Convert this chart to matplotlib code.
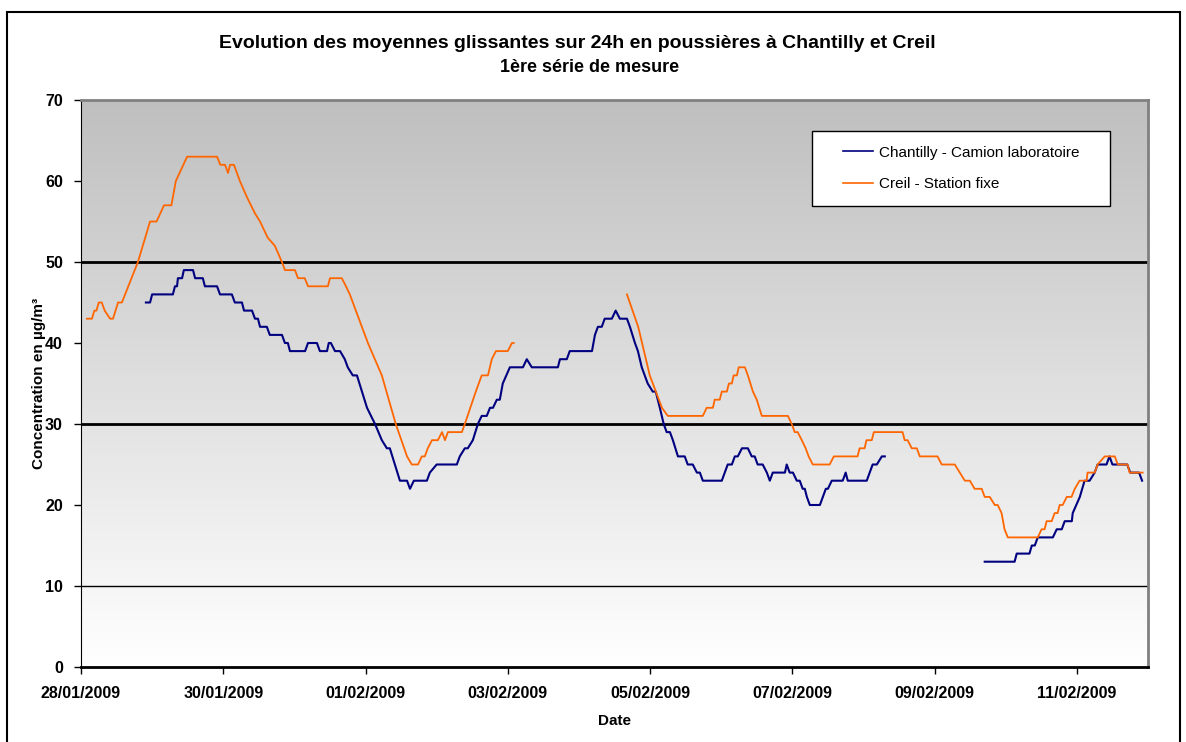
import matplotlib
matplotlib.use('Agg')
import matplotlib.pyplot as plt
import matplotlib.dates as mdates
from matplotlib.patches import Rectangle
from matplotlib.lines import Line2D
import numpy as np
import pandas as pd

plt.rcParams['font.family'] = ['Liberation Sans', 'DejaVu Sans']

# ---- data: hours after 28/01/2009 00:00, 24h rolling mean (µg/m3) ----
start = pd.Timestamp('2009-01-28 00:00')

creil_a_h = [2, 3.7, 4.5, 5.2, 6, 7, 8, 9.8, 10.8, 12.5, 13.8, 19.2, 23.3, 25.5, 28, 30.5, 32, 35.8,
             45.9, 47, 48.6, 49.6, 50.3, 51.6, 53.6, 56, 58.7, 60.4, 63, 65.4, 67.8, 68.8, 72.2,
             73.2, 75.5, 76.6, 83.3, 84, 88, 89.4, 90.7, 96.8, 101.5, 106.2, 110, 111.6, 113.7,
             115, 116, 117, 118.4, 120.4, 121.8, 122.8, 123.8, 128.5, 129.5, 133.2, 135.2, 137.3,
             138.6, 140, 144, 145.4, 146]
creil_a_v = [43, 43, 44, 44, 45, 45, 44, 43, 43, 45, 45, 50, 55, 55, 57, 57, 60, 63,
             63, 62, 62, 61, 62, 62, 60, 58, 56, 55, 53, 52, 50, 49, 49,
             48, 48, 47, 47, 48, 48, 47, 46, 40, 36, 30, 26, 25, 25,
             26, 26, 27, 28, 28, 29, 28, 29, 29, 30, 34, 36, 36,
             38, 39, 39, 40, 40]

creil_b_h = [184.2, 188, 191.9, 196, 198, 209.8, 211.1, 213.2, 213.8, 215.5, 216.2, 217.9, 218.6,
             219.6, 220.2, 221.3, 221.9, 224, 225, 226.7, 228, 229.7, 238.5, 239.8, 240.8, 241.8,
             243.2, 244.5, 245.5, 246.9, 252.6, 254, 262, 262.7, 264.4, 265, 266.8, 267.5, 277.2,
             277.9, 278.9, 280.3, 282, 283, 289, 290.4, 294.8, 296.5, 298.2, 299.9, 301.5, 303.9,
             304.9, 306.6, 308.3, 309.3, 310.6, 311.6, 312.7, 322.8, 324.1, 325.1, 325.8, 327.5,
             328.5, 329.5, 330.2, 331.2, 332.6, 334.2, 335.3, 336.9, 339.3, 339.6, 342, 343, 345.4,
             348.8, 349.8, 353.1, 353.8, 358.2]
creil_b_v = [46, 42, 36, 32, 31, 31, 32, 32, 33, 33, 34, 34, 35,
             35, 36, 36, 37, 37, 36, 34, 33, 31, 31, 30, 29, 29,
             28, 27, 26, 25, 25, 26, 26, 27, 27, 28, 28, 29, 29,
             28, 28, 27, 27, 26, 26, 25, 25, 24, 23, 23, 22, 22,
             21, 21, 20, 20, 19, 17, 16, 16, 17, 17, 18, 18,
             19, 19, 20, 20, 21, 21, 22, 23, 23, 24, 24, 25, 26,
             26, 25, 25, 24, 24]

chant_a_h = [21.9, 23.3, 24, 31, 31.7, 32.4, 32.7, 34.1, 34.7, 37.8, 38.5, 41.1, 41.8, 45.9, 46.9,
             50.9, 51.9, 54.3, 55, 57.7, 58.7, 59.7, 60.4, 62.7, 63.7, 67.8, 68.8, 69.8, 70.5, 75.6,
             76.6, 79.6, 80.6, 83, 83.6, 84.3, 85.7, 87.4, 89, 90, 91.7, 93.1, 94.8, 96.5, 99.2,
             101.5, 103.2, 104.2, 105.9, 107.6, 110, 111, 112.3, 116.7, 117.7, 120, 126.8, 127.8,
             129.5, 130.5, 132.2, 133.9, 135.2, 136.9, 138, 139, 140.3, 141.3, 142.3, 144.7, 149.1,
             150.4, 152.1, 160.9, 161.6, 163.9, 164.9, 172.4, 173.4, 174.4, 175.7, 176.7, 179.1,
             180.4, 181.8, 184.2, 185.2, 186.9, 187.9, 189.2, 191.2, 192.9, 193.9, 195.3, 196.6,
             197.6, 198.7, 199.7, 201.4, 203.7, 204.7, 206.4, 207.8, 208.8, 209.8, 216.2, 217.2,
             218.2, 219.6, 220.6, 221.6, 223, 225, 226.3, 227.3, 228.3, 230, 231.4, 232.4, 233.4,
             237.5, 238.1, 239.1, 240.2, 241.5, 242.5, 243.5, 244.2, 244.9, 245.9, 249.3, 250.3,
             251.3, 252, 253.3, 257, 258, 258.7, 265.1, 266.1, 267.1, 268.5, 270.2, 271.2]
chant_a_v = [45, 45, 46, 46, 47, 47, 48, 48, 49, 49, 48, 48, 47, 47, 46,
             46, 45, 45, 44, 44, 43, 43, 42, 42, 41, 41, 40, 40, 39, 39,
             40, 40, 39, 39, 40, 40, 39, 39, 38, 37, 36, 36, 34, 32, 30,
             28, 27, 27, 25, 23, 23, 22, 23, 23, 24, 25, 25, 26,
             27, 27, 28, 30, 31, 31, 32, 32, 33, 33, 35, 37, 37,
             38, 37, 37, 38, 38, 39, 39, 41, 42, 42, 43, 43,
             44, 43, 43, 42, 40, 39, 37, 35, 34, 34, 32, 30,
             29, 29, 28, 26, 26, 25, 25, 24, 24, 23, 23, 24,
             25, 25, 26, 26, 27, 27, 26, 26, 25, 25, 24, 23, 24,
             24, 25, 24, 24, 23, 23, 22, 22, 21, 20, 20, 21,
             22, 22, 23, 23, 24, 23, 23, 24, 25, 25, 26, 26]

chant_b_h = [304.9, 315, 315.7, 320, 320.8, 321.8, 322.8, 327.9, 329.2, 330.9, 331.9, 334.3, 334.6,
             337, 338.6, 340.3, 342, 343, 346, 347, 348, 353, 354, 357, 358]
chant_b_v = [13, 13, 14, 14, 15, 15, 16, 16, 17, 17, 18, 18, 19,
             21, 23, 23, 24, 25, 25, 26, 25, 25, 24, 24, 23]

tick_dates = pd.date_range('2009-01-28', '2009-02-11', freq='2D')


def join(h1, v1, h2, v2):
    h = list(h1) + [np.nan] + list(h2)
    v = list(v1) + [np.nan] + list(v2)
    t = [start + pd.Timedelta(hours=x) if not np.isnan(x) else pd.NaT for x in h]
    return t, v


chant_t, chant_v = join(chant_a_h, chant_a_v, chant_b_h, chant_b_v)
creil_t, creil_v = join(creil_a_h, creil_a_v, creil_b_h, creil_b_v)

W, H = 1186, 742
fig = plt.figure(figsize=(W / 100, H / 100), dpi=100)
ax = fig.add_axes([81 / W, 1 - 667 / H, (1148 - 81) / W, (667 - 100) / H])

# grey gradient background
grad = np.linspace(1.0, 0.0, 256).reshape(-1, 1)
ax.imshow(grad, extent=[0, 1, 0, 1], transform=ax.transAxes, aspect='auto',
          cmap=matplotlib.colors.LinearSegmentedColormap.from_list('g', ['#ffffff', '#bfbfbf']),
          vmin=0, vmax=1, zorder=0)

ax.axhline(50, color='black', lw=2, zorder=1)
ax.axhline(30, color='black', lw=2, zorder=1)
ax.axhline(10, color='black', lw=1, zorder=1)

ax.plot(pd.to_datetime(chant_t), chant_v, color='#000080', lw=1.5, zorder=3)
ax.plot(pd.to_datetime(creil_t), creil_v, color='#ff6600', lw=1.3, zorder=4)

ax.set_xlim(start, start + pd.Timedelta(days=15))
ax.set_ylim(0, 70)
ax.set_yticks(range(0, 71, 10))
ax.set_xticks(tick_dates)
ax.xaxis.set_major_formatter(mdates.DateFormatter('%d/%m/%Y'))
ax.tick_params(direction='out', length=5, width=1, labelsize=11.5)
ax.tick_params(axis='x', pad=9)
ax.tick_params(axis='y', pad=8)
for lab in ax.get_xticklabels() + ax.get_yticklabels():
    lab.set_fontweight('bold')

ax.spines['left'].set_color('black')
ax.spines['bottom'].set_color('black')
ax.spines['bottom'].set_linewidth(2)
ax.spines['top'].set_color('#808080')
ax.spines['right'].set_color('#808080')
ax.spines['top'].set_linewidth(2)
ax.spines['right'].set_linewidth(2)

ax.set_xlabel('Date', fontsize=11, fontweight='bold', labelpad=9)
ax.set_ylabel('Concentration en µg/m³', fontsize=11, fontweight='bold')
ax.yaxis.set_label_coords(-0.033, 0.5)

fig.text(577 / W, 1 - 43 / H, 'Evolution des moyennes glissantes sur 24h en poussières à Chantilly et Creil',
         ha='center', va='center', fontsize=14, fontweight='bold')
fig.text(590 / W, 1 - 67 / H, '1ère série de mesure',
         ha='center', va='center', fontsize=13, fontweight='bold')

# legend box
fig.patches.append(Rectangle((812 / W, 1 - 206 / H), (1110 - 812) / W, (206 - 131) / H,
                             transform=fig.transFigure, facecolor='white', edgecolor='black',
                             lw=1, zorder=5))
handles = [Line2D([], [], color='#000080', lw=1.2), Line2D([], [], color='#ff6600', lw=1.2)]
leg = fig.legend(handles, ['Chantilly - Camion laboratoire', 'Creil - Station fixe'],
                 loc='center', bbox_to_anchor=(961 / W, 1 - 168.5 / H), frameon=False,
                 fontsize=11, handlelength=2.0, handletextpad=0.35, labelspacing=1.15)
leg.set_zorder(6)

# outer chart frame
fig.patches.append(Rectangle((7 / W, -0.01), (1180 - 7) / W, 1 - 12 / H + 0.01,
                             transform=fig.transFigure, fill=False, edgecolor='black', lw=1.5))

plt.savefig('out.png', dpi=100)
